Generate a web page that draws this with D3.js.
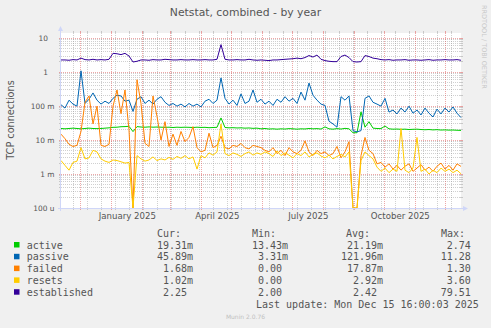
<!DOCTYPE html>
<html><head><meta charset="utf-8">
<script src="https://cdn.jsdelivr.net/npm/d3@7"></script>
<style>
html,body{margin:0;padding:0;background:#f0f0f0;}
svg{display:block;}
</style></head><body>
<svg id="c" width="491" height="328"></svg>
<script>
// ---- data ----
const chartTitle = "Netstat, combined - by year";
const yAxisTitle = "TCP connections";
const startDate = Date.UTC(2024, 10, 11, 16);
const endDate = Date.UTC(2025, 11, 16, 16);
const stepDays = 4;
const seriesNames = ["active", "passive", "failed", "resets", "established"];
const seriesColors = ["#00cc00", "#0066b3", "#ff8000", "#ffcc00", "#330099"];

const active = [
 0.022,0.0215,0.022,0.0225,0.022,0.0215,0.022,0.0225,0.022,0.0218,
 0.022,0.0225,0.023,0.0238,0.024,0.0248,0.025,0.0255,0.0178,0.025,
 0.0243,0.024,0.0245,0.024,0.0243,0.024,0.0238,0.024,0.0235,0.024,
 0.0237,0.024,0.0238,0.0235,0.024,0.0236,0.0238,0.0232,0.0235,0.0238,
 0.045,0.0235,0.023,0.0232,0.0228,0.023,0.0225,0.0228,0.0222,0.0225,
 0.0215,0.022,0.0212,0.0215,0.021,0.0215,0.0212,0.0218,0.0215,0.021,
 0.0215,0.0213,0.022,0.0215,0.0218,0.0212,0.0245,0.0215,0.021,0.0218,
 0.0212,0.0222,0.0215,0.0165,0.0165,0.068,0.024,0.035,0.0225,0.022,
 0.0218,0.026,0.0215,0.021,0.0212,0.0208,0.021,0.0205,0.0208,0.021,
 0.0205,0.0202,0.0205,0.02,0.0203,0.0198,0.02,0.0197,0.0198,0.0195,
 0.0193];
const passive = [
 0.11,0.088,0.15,0.115,0.10,1.1,0.12,0.16,0.245,0.15,
 0.115,0.14,0.12,0.17,0.21,0.2,0.14,0.15,0.07,0.16,
 0.19,0.12,0.15,0.115,0.16,0.19,0.13,0.105,0.12,0.10,
 0.115,0.095,0.12,0.10,0.115,0.095,0.14,0.16,0.12,0.15,
 0.68,0.17,0.115,0.15,0.105,0.23,0.12,0.14,0.3,0.13,
 0.16,0.115,0.14,0.105,0.16,0.13,0.19,0.14,0.17,0.12,
 0.26,0.15,0.48,0.21,0.15,0.115,0.105,0.036,0.03,0.024,
 0.19,0.15,0.2,0.019,0.0175,0.019,0.17,0.2,0.13,0.115,
 0.10,0.17,0.067,0.077,0.059,0.088,0.067,0.10,0.062,0.077,
 0.055,0.088,0.062,0.048,0.082,0.059,0.088,0.067,0.095,0.062,
 0.046];
const failed = [
 0.015,0.011,0.0075,0.0065,0.007,0.018,0.13,0.2,0.03,0.1,
 0.007,0.0065,0.0075,0.1,0.3,0.06,0.3,0.02,0,0.6,
 0.12,0.008,0.0065,0.2,0.05,0.01,0.035,0.0065,0.015,0.007,
 0.018,0.009,0.012,0.025,0.006,0.0045,0.005,0.016,0.006,0.007,
 0.013,0.006,0.0055,0.007,0.0065,0.008,0.006,0.0055,0.007,0.0065,
 0.006,0.005,0.0045,0.006,0.004,0.005,0.0035,0.006,0.0045,0.004,
 0.005,0.0095,0.0045,0.0035,0.005,0.004,0.0045,0.0035,0.004,0.0065,
 0.003,0.0045,0.009,0,0,0.0035,0.012,0.005,0.004,0.002,
 0.0022,0.0016,0.002,0.0014,0.0018,0.0013,0.0017,0.002,0.0012,0.0015,
 0.0019,0.0013,0.0016,0.0012,0.0017,0.0021,0.0014,0.0018,0.0013,0.002,
 0.00168];
const resets = [
 0.0025,0.0018,0.0013,0.0022,0.0024,0.006,0.0028,0.003,0.005,0.0045,
 0.0028,0.0024,0.0022,0.0026,0.0025,0.0023,0.0021,0.0022,0,0.0035,
 0.0028,0.0024,0.0026,0.0032,0.0025,0.0028,0.0026,0.0031,0.0027,0.0033,
 0.0029,0.0035,0.0028,0.0032,0.0014,0.0035,0.003,0.0042,0.0036,0.0045,
 0.03,0.004,0.0035,0.0042,0.0038,0.0033,0.004,0.0045,0.0036,0.0042,
 0.0038,0.0045,0.004,0.0033,0.0048,0.0035,0.0042,0.0036,0.003,0.004,
 0.0035,0.0045,0.0032,0.0038,0.0042,0.0034,0.003,0.0036,0.0028,0.0033,
 0.0038,0.0032,0.0045,0,0,0.0025,0.0045,0.0035,0.0028,0.0016,
 0.0012,0.0015,0.0011,0.0014,0.0012,0.022,0.0013,0.0011,0.0015,0.012,
 0.0012,0.0014,0.001,0.0013,0.0011,0.0015,0.0012,0.0014,0.0011,0.0013,
 0.00102];
const established = [
 2.3,2.3,2.25,2.35,2.3,2.6,2.35,2.3,2.4,2.3,
 2.35,2.3,2.4,3.6,3.5,3.3,3.6,3.0,2.0,2.1,
 2.3,2.3,2.25,2.35,2.3,2.3,2.4,2.35,2.3,2.3,
 2.35,2.3,2.3,2.35,2.3,2.3,2.35,2.3,2.3,2.4,
 6.5,2.4,2.3,2.3,2.35,2.3,2.3,2.4,2.3,2.25,
 2.3,2.25,2.2,2.3,2.3,2.35,2.4,2.45,2.5,2.6,
 2.5,2.7,3.1,2.8,3.2,2.4,2.2,2.1,2.05,2.05,
 2.9,3.2,2.7,2.05,2.0,2.05,3.1,2.9,2.6,2.5,
 2.35,2.3,2.35,2.25,2.3,2.3,2.35,2.25,2.3,2.3,
 2.25,2.3,2.35,2.25,2.3,2.3,2.35,2.3,2.3,2.35,
 2.25];

const yTickValues = [1e-4, 1e-3, 1e-2, 1e-1, 1, 10];
const yTickLabels = ["100 u", "1 m", "10 m", "100 m", "1", "10"];
const xLabelMonths = [[2025, 0, "January 2025"], [2025, 3, "April 2025"], [2025, 6, "July 2025"], [2025, 9, "October 2025"]];

const legendHeaders = ["Cur:", "Min:", "Avg:", "Max:"];
const statCur = ["19.31m", "45.89m", "1.68m", "1.02m", "2.25"];
const statMin = ["13.43m", "3.31m", "0.00", "0.00", "2.00"];
const statAvg = ["21.19m", "121.96m", "17.87m", "2.92m", "2.42"];
const statMax = ["2.74", "11.28", "1.30", "3.60", "79.51"];
const lastUpdate = "Last update: Mon Dec 15 16:00:03 2025";
const footer = "Munin 2.0.76";
const watermark = "RRDTOOL / TOBI OETIKER";

// ---- drawing ----
const svg = d3.select("#c");
const X0 = 61, X1 = 461, Y0 = 208, Y1 = 33;
const x = d3.scaleUtc().domain([new Date(startDate), new Date(endDate)]).range([X0, X1]);
const y = d3.scaleLog().domain([1e-4, 14.3]).range([Y0, Y1]).clamp(true);
const fontC = "#555";

svg.append("rect").attr("width", 491).attr("height", 328).attr("fill", "#f0f0f0");
svg.append("rect").attr("x", X0 - 1).attr("y", Y1).attr("width", X1 - X0 + 1).attr("height", Y0 - Y1).attr("fill", "#fff");

const grid = svg.append("g");
const minorC = "rgba(143,143,143,0.42)", majorC = "rgba(222,79,79,0.5)";
const minorVals = [];
for (let d = -4; d <= 1; d++) for (let k = 2; k <= 9; k++) { const v = k * Math.pow(10, d); if (v < 14.3) minorVals.push(v); }
function hline(v, c) {
  const yy = Math.floor(y(v)) + 0.5;
  grid.append("line").attr("x1", X0).attr("x2", X1).attr("y1", yy).attr("y2", yy)
    .attr("stroke", c).attr("stroke-dasharray", "1,1");
  grid.append("line").attr("x1", X0 - 2).attr("x2", X0).attr("y1", yy).attr("y2", yy).attr("stroke", c);
  grid.append("line").attr("x1", X1 - 1).attr("x2", X1 + 2).attr("y1", yy).attr("y2", yy).attr("stroke", c);
}
function vline(t, c) {
  const xx = Math.floor(x(t)) + 0.5;
  grid.append("line").attr("x1", xx).attr("x2", xx).attr("y1", Y1).attr("y2", Y0)
    .attr("stroke", c).attr("stroke-dasharray", "1,1");
  grid.append("line").attr("x1", xx).attr("x2", xx).attr("y1", Y0).attr("y2", Y0 + 2).attr("stroke", c);
  grid.append("line").attr("x1", xx).attr("x2", xx).attr("y1", Y1 - 2).attr("y2", Y1).attr("stroke", c);
}
minorVals.forEach(v => hline(v, minorC));
d3.utcSunday.every(1).range(new Date(startDate), new Date(endDate))
  .filter(t => Math.round((t - Date.UTC(2024, 10, 24)) / 864e5) % 14 === 0)
  .forEach(t => vline(t, minorC));
yTickValues.forEach(v => hline(v, majorC));
d3.utcMonth.range(new Date(startDate), new Date(endDate)).forEach(t => vline(t, majorC));

// series
const dates = active.map((_, i) => new Date(startDate + i * stepDays * 864e5));
const line = d3.line().x((d, i) => x(dates[i])).y(d => y(Math.max(d, 1e-4)));
[active, passive, failed, resets, established].forEach((s, k) => {
  svg.append("path").datum(s).attr("d", line).attr("fill", "none")
    .attr("stroke", seriesColors[k]).attr("stroke-width", 1);
});

// axes
const axisC = "#cfd6f8";
svg.append("line").attr("x1", X0 - 3).attr("x2", X1 + 3).attr("y1", Y0 + 0.5).attr("y2", Y0 + 0.5).attr("stroke", axisC);
svg.append("line").attr("x1", X0 - 0.5).attr("x2", X0 - 0.5).attr("y1", Y0 + 3).attr("y2", Y1 - 3).attr("stroke", axisC);
svg.append("path").attr("d", `M${X1 + 2},${Y0 - 2} L${X1 + 7},${Y0 + 0.5} L${X1 + 2},${Y0 + 3} Z`).attr("fill", axisC);
svg.append("path").attr("d", `M${X0 - 3},${Y1 - 2} L${X0 - 0.5},${Y1 - 7} L${X0 + 2},${Y1 - 2} Z`).attr("fill", axisC);

// y tick labels
yTickValues.forEach((v, i) => {
  const lab = yTickLabels[i];
  svg.append("text").attr("x", lab.includes(" ") ? 54.5 : 48).attr("y", y(v) + 3)
    .attr("text-anchor", "end").attr("font-family", "DejaVu Sans").attr("font-size", 7.4)
    .attr("fill", fontC).text(lab);
});
// x labels
xLabelMonths.forEach(([yr, m, lab]) => {
  svg.append("text").attr("x", x(new Date(Date.UTC(yr, m, 17)))).attr("y", 218.5)
    .attr("text-anchor", "middle").attr("font-family", "DejaVu Sans").attr("font-size", 8.6)
    .attr("fill", fontC).text(lab);
});
// titles
svg.append("text").attr("x", 245.5).attr("y", 15.5).attr("text-anchor", "middle")
  .attr("font-family", "DejaVu Sans").attr("font-size", 10.8).attr("fill", fontC).text(chartTitle);
svg.append("text").attr("transform", "translate(13.5,120) rotate(-90)").attr("text-anchor", "middle")
  .attr("font-family", "DejaVu Sans").attr("font-size", 9.7).attr("fill", fontC).text(yAxisTitle);
svg.append("text").attr("transform", "translate(482,5) rotate(90)").attr("text-anchor", "start")
  .attr("font-family", "DejaVu Sans").attr("font-size", 6.5).attr("fill", "#c8c8c8").text(watermark);

// legend
const mono = "DejaVu Sans Mono", cw = 6.02;
const colStart = [151, 246, 341, 434.7];
const headerX = [157, 252, 346, 441];
legendHeaders.forEach((h, i) => svg.append("text").attr("x", headerX[i]).attr("y", 236.8)
  .attr("font-family", mono).attr("font-size", 10).attr("fill", fontC).text(h));
const stats = [statCur, statMin, statAvg, statMax];
seriesNames.forEach((name, r) => {
  const by = 248.5 + r * 11.8;
  svg.append("rect").attr("x", 14).attr("y", by - 6.5).attr("width", 5.5).attr("height", 5.5).attr("fill", seriesColors[r]);
  svg.append("text").attr("x", 26.7).attr("y", by).attr("font-family", mono).attr("font-size", 10).attr("fill", fontC).text(name);
  stats.forEach((col, c) => {
    const s = col[r];
    const hasM = s.endsWith("m");
    const num = hasM ? s.slice(0, -1) : s;
    const padded = num.padStart(6) + (hasM ? "m" : " ");
    const lead = padded.length - padded.trimStart().length;
    svg.append("text").attr("x", colStart[c] + lead * cw).attr("y", by)
      .attr("font-family", mono).attr("font-size", 10).attr("fill", fontC).text(padded.trim());
  });
});
svg.append("text").attr("x", 256).attr("y", 307.8).attr("font-family", mono).attr("font-size", 10).attr("fill", fontC).text(lastUpdate);
svg.append("text").attr("x", 245.5).attr("y", 319).attr("text-anchor", "middle").attr("font-family", "DejaVu Sans")
  .attr("font-size", 6).attr("fill", "#c0c0c0").text(footer);
</script>
</body></html>
